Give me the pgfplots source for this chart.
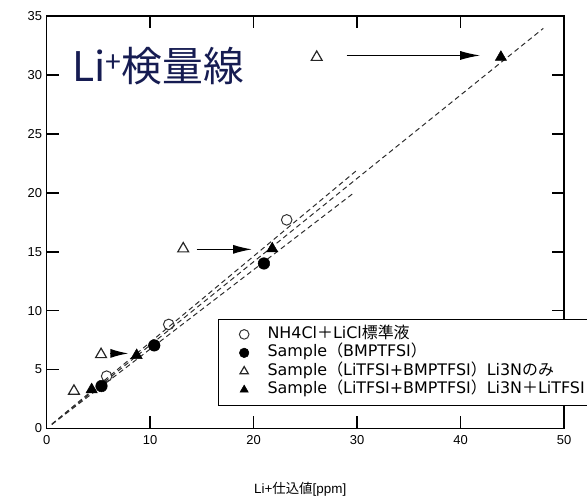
\documentclass[border=0pt]{standalone}
\usepackage{fontspec}
\setmainfont{Liberation Sans}
\newfontfamily\cjk{Noto Sans CJK JP}
\newfontfamily\legfont{DejaVu Sans}
\usepackage{pgfplots}
\pgfplotsset{compat=1.18}
\usetikzlibrary{arrows.meta}
\definecolor{titlenavy}{RGB}{22,28,82}
\definecolor{dashgray}{RGB}{45,45,45}
\begin{document}
\begin{tikzpicture}
\path[use as bounding box] (-46.7bp,-74bp) rectangle (541bp,429bp);
\begin{axis}[name=ax, anchor=south west, at={(0,0)}, scale only axis, width=518bp, height=413bp,
  xmin=0, xmax=50, ymin=0, ymax=35,
  xtick={0,10,20,30,40,50}, ytick={0,5,10,15,20,25,30,35},
  tick align=inside, major tick length=0bp,
  axis line style={line width=1.3bp, black},
  /pgf/number format/assume math mode=true,
  ticklabel style={font=\fontsize{13}{13}\selectfont},
  xticklabel style={yshift=-3bp}, yticklabel style={xshift=-1bp},
  xlabel={Li+{\cjk 仕込値}[ppm]},
  xlabel style={font=\fontsize{13.5}{13.5}\selectfont, at={(axis description cs:0.49,-0.148)}, anchor=center},
  legend style={at={(axis description cs:0.332,0.266)}, anchor=north west,
    font=\legfont\fontsize{16}{18}\selectfont, draw=black, line width=0.8bp, fill=white,
    inner xsep=4bp, inner ysep=6bp, row sep=0bp,
    nodes={inner sep=1bp, text height=12.2bp, text depth=4.3bp}},
  legend cell align=left,
  legend image code/.code={\path (-21bp,0) (22bp,0); \draw[#1, mark size=4.8bp] plot coordinates {(0bp,0bp)};},
  clip=false,
]
% tick marks (inward)
\pgfplotsinvokeforeach{10,20,30,40}{
  \draw[black, line width=1.7bp] (axis cs:#1,0) -- ++(0,12.5bp);
  \draw[black, line width=1.7bp] (axis cs:#1,35) -- ++(0,-12.5bp);
}
\pgfplotsinvokeforeach{5,10,15,20,25,30}{
  \draw[black, line width=1.7bp] (axis cs:0,#1) -- ++(12.5bp,0);
  \draw[black, line width=1.7bp] (axis cs:50,#1) -- ++(-12.5bp,0);
}
% regression lines
\addplot[forget plot, dashgray, line width=1bp, dash pattern=on 5bp off 3.5bp] coordinates {(0.5,0.35) (48,33.95)};
\addplot[forget plot, dashgray, line width=1bp, dash pattern=on 5bp off 3.5bp] coordinates {(0.5,0.37) (29.9,21.85)};
\addplot[forget plot, dashgray, line width=1bp, dash pattern=on 5bp off 3.5bp] coordinates {(0.5,0.34) (29.7,20.0)};
% arrows
\addplot[forget plot, black, line width=1.2bp, -{Latex[length=18bp,width=9bp]}] coordinates {(6.1,6.37) (7.9,6.37)};
\addplot[forget plot, black, line width=1.2bp, -{Latex[length=19bp,width=9bp]}] coordinates {(14.5,15.2) (19.85,15.2)};
\addplot[forget plot, black, line width=1.2bp, -{Latex[length=20bp,width=9bp]}] coordinates {(29.0,31.65) (41.9,31.65)};
% data
\addplot[only marks, mark=o, mark size=5.3bp, mark options={line width=1bp, draw=black!80, fill=white}] coordinates {(5.8,4.44) (11.8,8.83) (23.2,17.7)};
\addlegendentry{NH4Cl{\cjk ＋}LiCl{\cjk 標準液}}
\addplot[only marks, mark=*, mark size=5.8bp, mark options={black, line width=0.5bp}] coordinates {(5.3,3.6) (10.4,7.05) (21.0,14.0)};
\addlegendentry{Sample{\cjk （}BMPTFSI{\cjk ）}}
\addplot[only marks, mark=triangle, mark size=6.3bp, mark options={line width=1.2bp, draw=black!85, fill=white}] coordinates {(2.64,3.17) (5.26,6.28) (13.2,15.25) (26.1,31.5)};
\addlegendentry{Sample{\cjk （}LiTFSI+BMPTFSI{\cjk ）}Li3N{\cjk のみ}}
\addplot[only marks, mark=triangle*, mark size=6.5bp, mark options={black, line width=0.5bp}] coordinates {(4.35,3.3) (8.7,6.2) (21.8,15.25) (43.9,31.5)};
\addlegendentry{Sample{\cjk （}LiTFSI+BMPTFSI{\cjk ）}Li3N{\cjk ＋}LiTFSI}
\node[anchor=base west, inner sep=0pt, text=titlenavy, font=\cjk\fontsize{41}{41}\selectfont] at (rel axis cs:0.049,0.840) {Li\textsuperscript{+}検量線};
\end{axis}
\end{tikzpicture}
\end{document}
